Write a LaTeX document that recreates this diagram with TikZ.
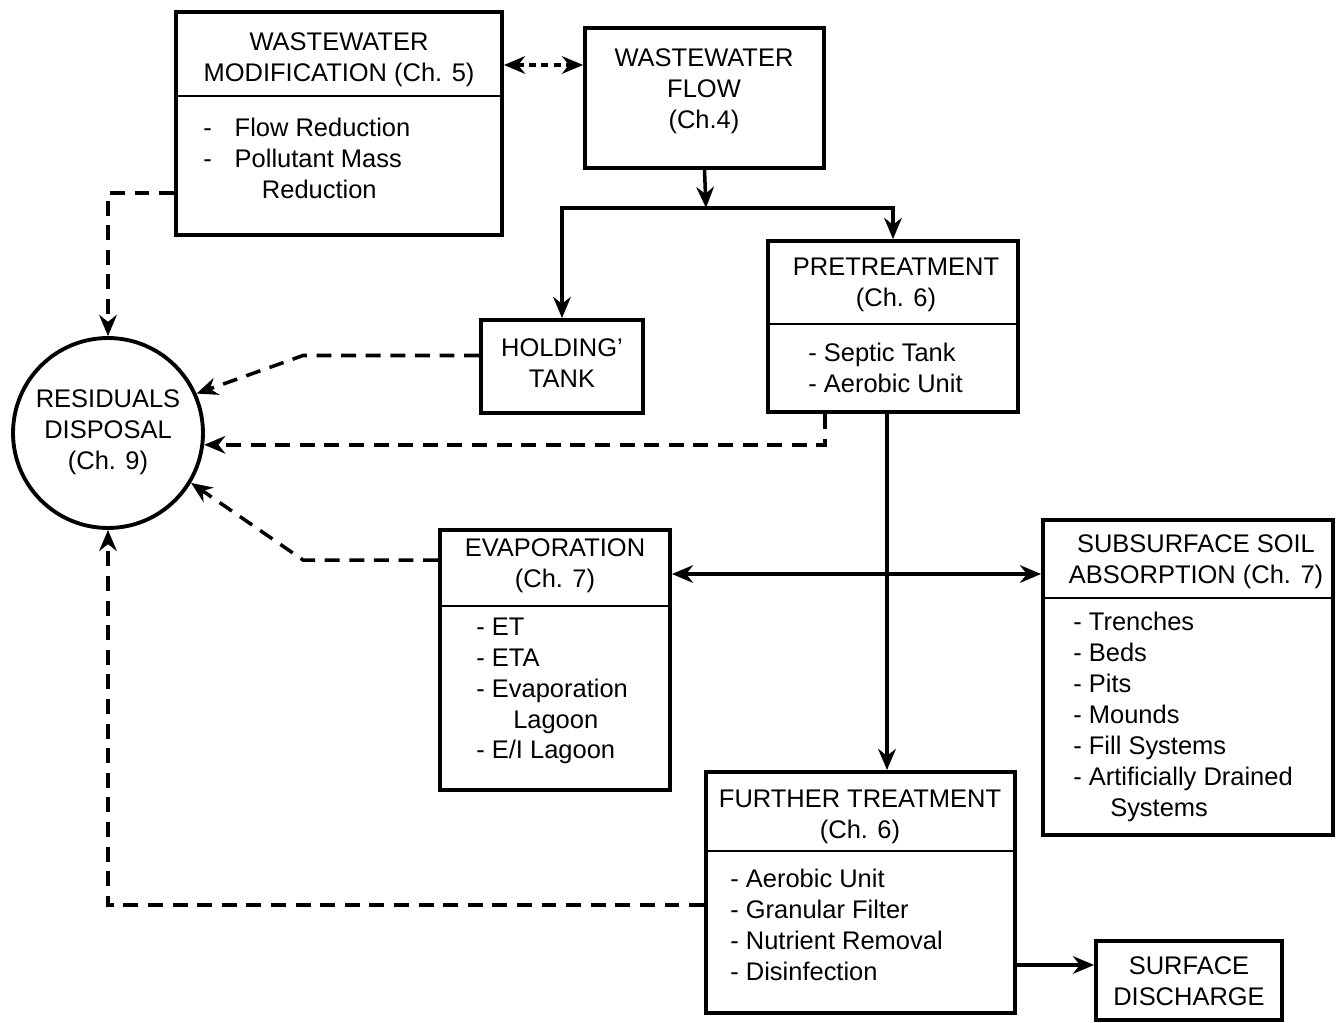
\documentclass[tikz,border=0pt]{standalone}
\usepackage{fontspec}
\setmainfont{Liberation Sans}
\usetikzlibrary{arrows.meta, fit}

\tikzset{
  blk/.style={draw, line width=2.2pt, inner sep=0pt},
  txt/.style={align=center, inner sep=0pt},
  lst/.style={align=left, anchor=west, inner sep=0pt},
  sep/.style={line width=1.7pt},
  flow/.style={line width=2pt, ->},
  dsh/.style={flow, dash pattern=on 8.5pt off 5.5pt},
  dot/.style={line width=2pt, <->, dash pattern=on 4pt off 3pt},
}

\begin{document}
\begin{tikzpicture}[x=0.02cm, y=-0.02cm, >={Stealth[length=12pt,width=10pt]},
    font=\fontsize{14.5}{17.6}\selectfont]
  \useasboundingbox (0,0) rectangle (1336,1023);

  % boxes
  \node[blk, fit={(176,12) (502,235)}] (wm) {};
  \node[blk, fit={(585,28) (824,168)}] (wf) {};
  \node[blk, fit={(768,241) (1018,412)}] (pt) {};
  \node[blk, fit={(481,320) (643,413)}] (ht) {};
  \node[blk, fit={(440,530) (670,790)}] (ev) {};
  \node[blk, fit={(1043,520) (1333,835)}] (ss) {};
  \node[blk, fit={(706,772) (1015,1013)}] (ft) {};
  \node[blk, fit={(1096,941) (1282,1020)}] (sd) {};
  \node[blk, circle, minimum size=3.8cm] (rd) at (108,433) {};

  % dividers
  \draw[sep] (wm.west |- 0,96) -- (wm.east |- 0,96);
  \draw[sep] (pt.west |- 0,324) -- (pt.east |- 0,324);
  \draw[sep] (ev.west |- 0,606) -- (ev.east |- 0,606);
  \draw[sep] (ss.west |- 0,598) -- (ss.east |- 0,598);
  \draw[sep] (ft.west |- 0,851) -- (ft.east |- 0,851);

  % texts
  \node[txt] (wmt) at (339,60) {WASTEWATER\\MODIFICATION (Ch. 5)};
  \node[lst] (wml) at (203,158) {-\hspace{0.9em}Flow Reduction\\-\hspace{0.9em}Pollutant Mass\\\hspace*{2.3em}Reduction};
  \node[txt] (wft) at (704,91) {WASTEWATER\\FLOW\\(Ch.4)};
  \node[txt] (ptt) at (896,285) {PRETREATMENT\\(Ch. 6)};
  \node[lst] (ptl) at (808,368) {- Septic Tank\\- Aerobic Unit};
  \node[txt] (htt) at (562,363) {HOLDING'\\TANK};
  \node[txt] (rdt) at (108,432) {RESIDUALS\\DISPOSAL\\(Ch. 9)};
  \node[txt] (evt) at (555,566) {EVAPORATION\\(Ch. 7)};
  \node[lst] (evl) at (476,691) {- ET\\- ETA\\- Evaporation\\\hspace*{21pt}Lagoon\\- E/I Lagoon};
  \node[txt] (sst) at (1196,562) {SUBSURFACE SOIL\\ABSORPTION (Ch. 7)};
  \node[lst] (ssl) at (1073,717) {- Trenches\\- Beds\\- Pits\\- Mounds\\- Fill Systems\\- Artificially Drained\\\hspace*{21pt}Systems};
  \node[txt] (ftt) at (860,817) {FURTHER TREATMENT\\(Ch. 6)};
  \node[lst] (ftl) at (730,925) {- Aerobic Unit\\- Granular Filter\\- Nutrient Removal\\- Disinfection};
  \node[txt] (sdt) at (1189,981) {SURFACE\\DISCHARGE};

  % main flow
  \coordinate (split) at (706,208);
  \draw[dot] (wm.east |- 0,65) -- (wf.west |- 0,65);
  \draw[flow] (wf.south) -- (split);
  \draw[flow] (split) -| (ht.north);
  \draw[flow] (split) -| (pt.north);
  \draw[flow] ([xshift=-0.12cm]pt.south) coordinate (drop) -- (drop |- ft.north);
  \draw[flow, <->] ([yshift=1.72cm]ev.east) -- ([yshift=1.72cm]ev.east -| ss.west);
  \draw[flow] ([yshift=-1.45cm]ft.east) -- ([yshift=-1.45cm]ft.east -| sd.west);

  % residuals
  \draw[dsh] ([yshift=-1.39cm]wm.west) -| (rd.north);
  \draw[dsh] ([yshift=0.22cm]ht.west) -- ++(-176,0) -- (rd.24);
  \draw[dsh] ([xshift=-1.36cm]pt.south) |- (rd.-7);
  \draw[dsh] ([yshift=2cm]ev.west) -- ++(-135,0) -- (rd.-31);
  \draw[dsh] ([yshift=-0.25cm]ft.west) -| (rd.south);
\end{tikzpicture}
\end{document}
